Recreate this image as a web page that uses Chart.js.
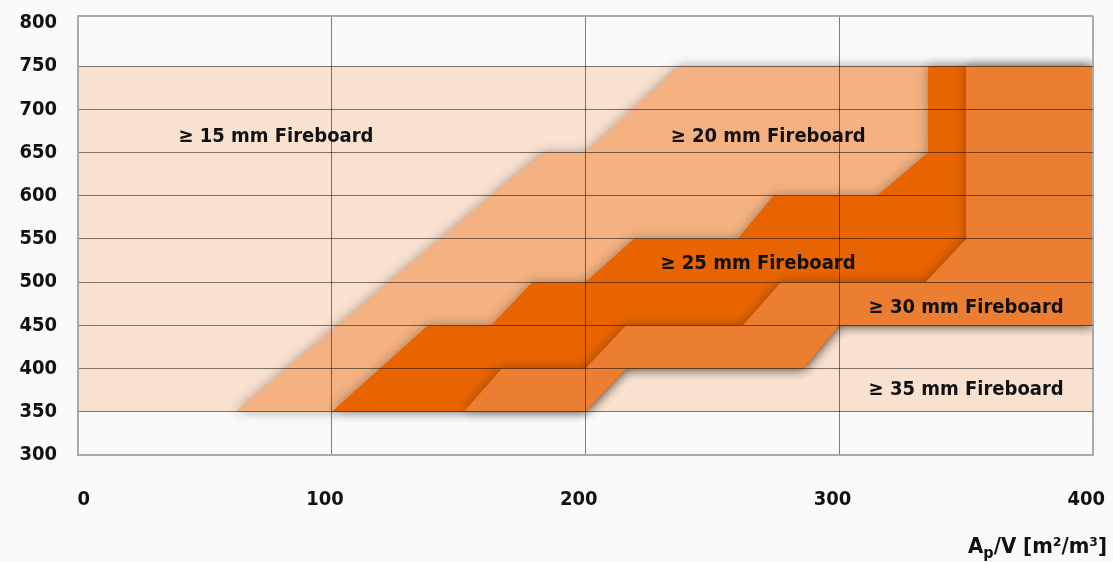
<!DOCTYPE html>
<html>
<head>
<meta charset="utf-8">
<script src="https://cdn.jsdelivr.net/npm/chart.js@4/dist/chart.umd.min.js"></script>
<style>
  html, body { margin: 0; padding: 0; background: #fafafa; }
  #wrap { width: 1113px; height: 562px; position: relative; }
</style>
</head>
<body>
<div id="wrap"><canvas id="c"></canvas></div>
<script>
// axis ticks
const xTicks = [0, 100, 200, 300, 400];
const yTicks = [300, 350, 400, 450, 500, 550, 600, 650, 700, 750, 800];

// region outlines, [Ap/V, temperature] pairs
const board15 = [[0, 350], [0, 750], [400, 750], [400, 350]];
const board20 = [[62, 350], [183, 650], [200, 650], [237, 750], [400, 750], [400, 450],
  [300, 450], [286, 400], [216, 400], [200, 350]];
const board25 = [[100, 350], [138, 450], [163, 450], [179, 500], [200, 500], [219, 550], [260, 550],
  [274, 600], [315, 600], [335, 650], [335, 750], [400, 750], [400, 450],
  [300, 450], [286, 400], [216, 400], [200, 350]];
const board30 = [[152, 350], [167, 400], [200, 400], [216, 450], [262, 450], [277, 500], [334, 500],
  [350, 550], [350, 750], [400, 750], [400, 450], [300, 450], [286, 400], [216, 400], [200, 350]];

const regionNames = ['\u2265 15 mm Fireboard', '\u2265 20 mm Fireboard', '\u2265 25 mm Fireboard',
  '\u2265 30 mm Fireboard', '\u2265 35 mm Fireboard'];
const nameX = [78, 272, 268, 350, 350];
const nameY = [668, 668, 521, 470, 375];

const FONT = "'DejaVu Sans Condensed', 'DejaVu Sans', sans-serif";

const toPts = arr => arr.map(([x, y]) => ({ x, y }));

const layer = (pts, color, order) => ({
  data: toPts(pts),
  backgroundColor: color,
  borderColor: 'transparent',
  borderWidth: 0,
  pointRadius: 0,
  fill: 'shape',
  tension: 0,
  order
});

// soft shadow on every layer above the base one, then the region names
const shadows = {
  id: 'shadows',
  beforeDatasetsDraw(chart) { chart.ctx.save(); },
  afterDatasetDraw(chart, args) {
    if (args.index === 0) {
      chart.ctx.shadowColor = 'rgba(0,0,0,0.33)';
      chart.ctx.shadowBlur = 12;
    }
  },
  afterDatasetsDraw(chart) {
    chart.ctx.restore();
    const ctx = chart.ctx, xs = chart.scales.x, ys = chart.scales.y;
    ctx.save();
    ctx.font = 'bold 20px ' + FONT;
    ctx.fillStyle = '#111';
    ctx.textAlign = 'center';
    ctx.textBaseline = 'middle';
    regionNames.forEach((t, i) => {
      ctx.fillText(t, xs.getPixelForValue(nameX[i]), ys.getPixelForValue(nameY[i]));
    });
    ctx.restore();
  },
  afterDraw(chart) {
    const ctx = chart.ctx;
    ctx.save();
    ctx.fillStyle = '#111';
    ctx.textBaseline = 'alphabetic';
    const big = 'bold 22px ' + FONT, small = 'bold 16px ' + FONT;
    ctx.font = big;
    const wA = ctx.measureText('A').width;
    const rest = '/V [m\u00b2/m\u00b3]';
    const wR = ctx.measureText(rest).width;
    ctx.font = small;
    const wP = ctx.measureText('p').width;
    let x = 1107 - (wA + wP + wR);
    const base = 553;
    ctx.font = big;
    ctx.fillText('A', x, base);
    x += wA;
    ctx.font = small;
    ctx.fillText('p', x, base + 5);
    x += wP;
    ctx.font = big;
    ctx.fillText(rest, x, base);
    ctx.restore();
  }
};

const edgeX = v => v === 0 || v === 400;
const edgeY = v => v === 808 || v === 300;

new Chart(document.getElementById('c'), {
  type: 'line',
  data: {
    datasets: [
      layer(board15, '#F9E1CF', 4),
      layer(board20, '#F4B282', 3),
      layer(board25, '#E86400', 2),
      layer(board30, '#EC7E32', 1)
    ]
  },
  options: {
    responsive: true,
    maintainAspectRatio: false,
    animation: false,
    events: [],
    layout: { padding: { top: 16, right: 20, left: 0, bottom: 0 } },
    plugins: { legend: { display: false }, tooltip: { enabled: false } },
    scales: {
      x: {
        type: 'linear',
        min: 0,
        max: 400,
        afterBuildTicks: s => { s.ticks = xTicks.map(v => ({ value: v })); },
        afterFit: s => { s.height = 107; s.paddingLeft = 0; s.paddingRight = 0; },
        border: { display: true, color: '#aaa', width: 2, z: 1 },
        grid: {
          z: 1,
          drawTicks: false,
          color: c => (c.tick && edgeX(c.tick.value)) ? '#aaa' : 'rgba(0,0,0,0.5)',
          lineWidth: c => (c.tick && edgeX(c.tick.value)) ? 2 : 1
        },
        ticks: {
          z: 1,
          align: 'end',
          labelOffset: 12,
          padding: 33,
          color: '#111',
          font: { family: FONT, size: 20, weight: 'bold' }
        }
      },
      y: {
        type: 'linear',
        min: 300,
        max: 808,
        afterBuildTicks: s => { s.ticks = yTicks.concat([808]).map(v => ({ value: v })); },
        afterFit: s => { s.width = 78; s.paddingTop = 0; s.paddingBottom = 0; },
        border: { display: true, color: '#aaa', width: 2, z: 1 },
        grid: {
          z: 1,
          drawTicks: false,
          color: c => {
            const v = c.tick && c.tick.value;
            if (v === 800) return 'transparent';
            if (edgeY(v)) return '#aaa';
            return 'rgba(0,0,0,0.5)';
          },
          lineWidth: c => (c.tick && edgeY(c.tick.value)) ? 2 : 1
        },
        ticks: {
          z: 1,
          padding: 21,
          color: '#111',
          font: { family: FONT, size: 20, weight: 'bold' },
          callback: v => (v === 808 ? '' : v)
        }
      }
    }
  },
  plugins: [shadows]
});
</script>
</body>
</html>
